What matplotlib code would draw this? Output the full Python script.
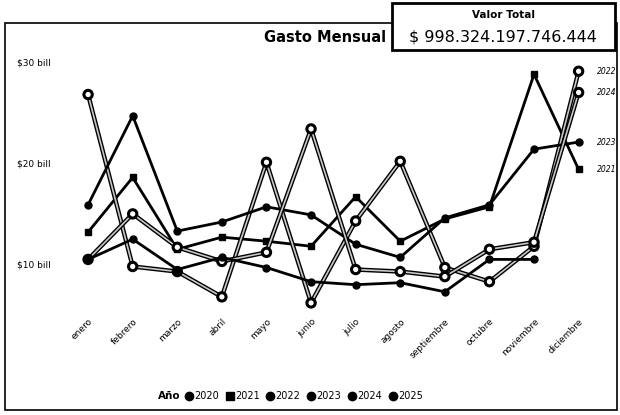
import matplotlib
matplotlib.use("Agg")
import matplotlib.pyplot as plt
import matplotlib.patheffects as pe
from matplotlib.patches import Rectangle
import numpy as np

# data (billions)
meses = ["enero", "febrero", "marzo", "abril", "mayo", "junio", "julio",
         "agosto", "septiembre", "octubre", "noviembre", "diciembre"]
anios = ["2020", "2021", "2022", "2023", "2024", "2025"]
g2020 = [None] * 12
g2021 = [13.2, 18.6, 11.5, 12.7, 12.3, 11.8, 16.7, 12.3, 14.5, 15.7, 28.8, 19.4]
g2022 = [26.8, 9.8, 9.3, 6.8, 20.1, 6.2, 14.3, 20.2, 9.7, 8.3, 11.8, 29.1]
g2023 = [15.9, 24.7, 13.3, 14.2, 15.7, 14.9, 12.0, 10.7, 14.6, 15.9, 21.4, 22.1]
g2024 = [10.5, 15.0, 11.7, 10.3, 11.2, 23.4, 9.5, 9.3, 8.8, 11.5, 12.2, 27.0]
g2025 = [10.5, 12.5, 9.5, 10.7, 9.7, 8.3, 8.0, 8.2, 7.3, 10.5, 10.5, None]
valor_total = "$ 998.324.197.746.444"

series = [g2020, g2021, g2022, g2023, g2024, g2025]
# (marker, light line?)
estilos = [("o", False), ("s", False), ("o", True), ("o", False), ("o", True), ("o", False)]

W, H = 620, 415
fig = plt.figure(figsize=(W / 100, H / 100), dpi=100)

def box(x0, y0, x1, y1):
    return [x0 / W, 1 - y1 / H, (x1 - x0) / W, (y1 - y0) / H]

# outer frame of the visual
fig.add_artist(Rectangle((5 / W, 1 - 410 / H), 612 / W, 387 / H, transform=fig.transFigure,
                         fill=False, lw=1.2, ec="black"))

ax = fig.add_axes(box(60, 50, 592, 310))
x = np.arange(len(meses))
for nombre, vals, (mk, claro) in zip(anios, series, estilos):
    y = np.array([np.nan if v is None else v for v in vals], dtype=float)
    if claro:
        line, = ax.plot(x, y, color="#c8c8c8", lw=1.2, marker=mk, ms=5,
                        mfc="white", mec="black", mew=1.2, label=nombre)
        line.set_path_effects([pe.Stroke(linewidth=3.2, foreground="black"), pe.Normal()])
    else:
        ax.plot(x, y, color="black", lw=2.0, marker=mk, ms=5,
                mfc="black", mec="black", label=nombre)
    if vals[-1] is not None:
        ax.annotate(nombre, (x[-1], vals[-1]), xytext=(13, 0), textcoords="offset points",
                    va="center", fontsize=5.5, style="italic", annotation_clip=False)

ax.set_xlim(-0.63, 11.3)
ax.set_ylim(5.5, 31.2)
ax.set_xticks(x, meses, rotation=45, ha="right", rotation_mode="anchor", fontsize=6.5)
ax.set_yticks([10, 20, 30], ["$10 bill", "$20 bill", "$30 bill"], fontsize=6.5)
for lab in ax.get_yticklabels():
    lab.set_ha("left")
ax.tick_params(axis="y", length=0, pad=31)
ax.tick_params(axis="x", length=0, pad=5)
for s in ax.spines.values():
    s.set_visible(False)

fig.text(325 / W, 1 - 37 / H, "Gasto Mensual", ha="center", va="center",
         fontsize=10.5, fontweight="bold")

# total value card
fig.add_artist(Rectangle((392 / W, 1 - 50 / H), 223 / W, 47 / H, transform=fig.transFigure,
                         fill=True, fc="white", lw=2, ec="black"))
fig.text(503 / W, 1 - 15 / H, "Valor Total", ha="center", va="center",
         fontsize=7.5, fontweight="bold")
fig.text(503 / W, 1 - 37 / H, valor_total, ha="center", va="center", fontsize=11.5)

# legend
fig.text(158 / W, 1 - 396 / H, "Año", ha="left", va="center", fontsize=7.5, fontweight="bold")
handles = [plt.Line2D([], [], ls="none", marker=m, ms=6, mfc="black", mec="black")
           for m, _ in estilos]
fig.legend(handles, anios, loc="center left", bbox_to_anchor=(180 / W, 1 - 396 / H),
           ncol=6, frameon=False, fontsize=7, handletextpad=0.05, columnspacing=0.6,
           handlelength=1.0, borderaxespad=0)

fig.savefig("out.png", dpi=100)
